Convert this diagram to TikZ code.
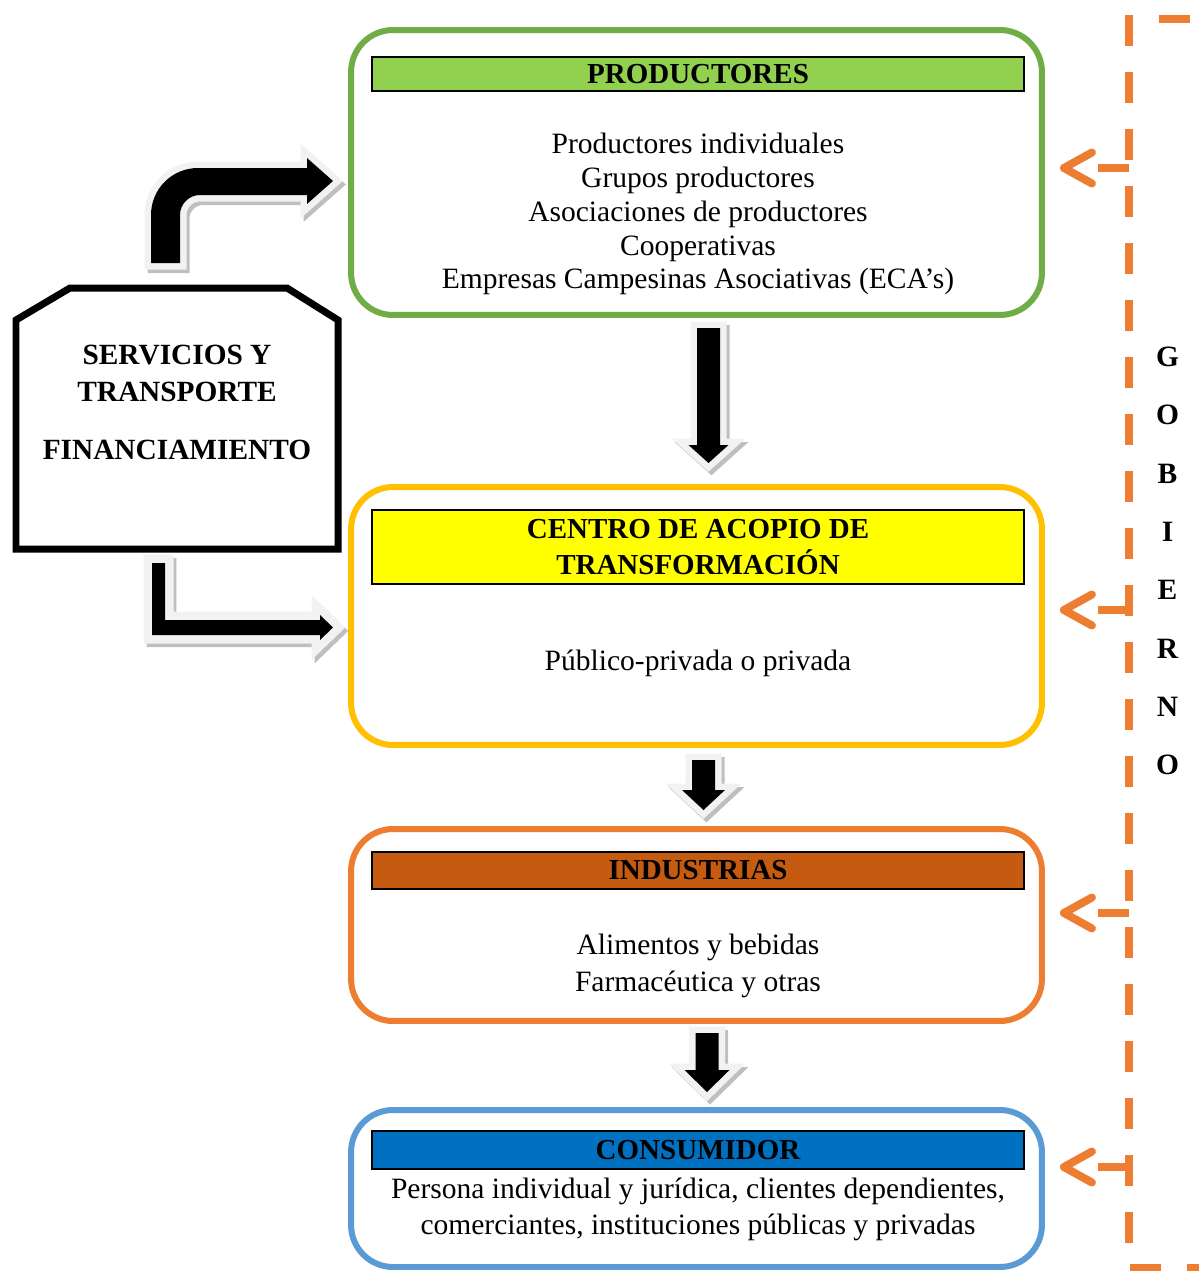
\documentclass[tikz,border=0pt]{standalone}
\usepackage{fontspec}
\setmainfont{Liberation Serif}
\usetikzlibrary{arrows.meta}
\definecolor{prodGreen}{HTML}{70AD47}
\definecolor{prodBar}{HTML}{92D050}
\definecolor{centroGold}{HTML}{FFC000}
\definecolor{centroBar}{HTML}{FFFF00}
\definecolor{indOrange}{HTML}{ED7D31}
\definecolor{indBar}{HTML}{C55A11}
\definecolor{consBlue}{HTML}{5B9BD5}
\definecolor{consBar}{HTML}{0070C0}
\definecolor{govOrange}{HTML}{ED7D31}
\definecolor{rimGray}{HTML}{F2F2F2}
\definecolor{shadowGray}{HTML}{BFBFBF}
\tikzstyle{diagram} = [x = 0.02cm, y = -0.02cm]
\tikzstyle{stageBox} = [rounded corners = 0.84cm, line width = 0.12cm, fill = white, inner sep = 0pt, minimum width = 13.82cm]
\tikzstyle{titleBar} = [draw = black, line width = 0.04cm, inner sep = 0pt, minimum width = 13.06cm, align = center, font = \bfseries\fontsize{16.5}{20.4}\selectfont]
\tikzstyle{bodyText} = [align = center, inner sep = 0pt, font = \fontsize{16.8}{19.3}\selectfont]
\tikzstyle{govLine} = [color = govOrange, line width = 0.15cm, dash pattern = on 0.62cm off 0.52cm]
\tikzstyle{govArrow} = [color = govOrange, line width = 0.16cm, dash pattern = on 0.62cm off 3cm, shorten > = 0.3cm, -{Straight Barb[length = 0.56cm, width = 0.62cm, line cap = round, line join = round]}]
\tikzstyle{govLetter} = [inner sep = 0pt, font = \bfseries\fontsize{16.8}{20}\selectfont]
\tikzstyle{arrowShadow} = [fill = shadowGray, draw = shadowGray, line join = miter]
\tikzstyle{arrowRim} = [draw = rimGray, line join = miter]
\tikzstyle{arrowCore} = [fill = black]
\tikzstyle{servBox} = [line width = 0.14cm, line join = miter]
\tikzstyle{servText} = [align = center, inner sep = 0pt, font = \bfseries\fontsize{16.7}{21}\selectfont]
% fat block arrow: shadow, light rim, black core
\newcommand{\fatShape}[2][0.26cm]{
  \path [arrowShadow, line width = #1, xshift = 0.06cm, yshift = -0.07cm] #2;
  \path [arrowRim, line width = #1] #2;
  \path [arrowCore] #2;
}
% x, top, head start, tip, shaft half width, head half width
\newcommand{\fatDown}[6]{\fatShape{(#1 - #5, #2) -- (#1 + #5, #2) -- (#1 + #5, #3) -- (#1 + #6, #3) -- (#1, #4) -- (#1 - #6, #3) -- (#1 - #5, #3) -- cycle}}

\begin{document}
\begin{tikzpicture}[diagram]
  \useasboundingbox (0,0) rectangle (1199,1271);

  % stages
  \node [stageBox, draw = prodGreen, minimum height = 5.7cm] (prod) at (696.5,172.5) {};
  \node [titleBar, fill = prodBar, minimum height = 0.68cm] (prodTitle) at (698,74) {PRODUCTORES};
  \node [bodyText] (prodText) at (698,214) {Productores individuales\\Grupos productores\\Asociaciones de productores\\Cooperativas\\Empresas Campesinas Asociativas (ECA’s)};

  \node [stageBox, draw = centroGold, minimum height = 5.16cm] (centro) at (696.5,616) {};
  \node [titleBar, fill = centroBar, minimum height = 1.48cm] (centroTitle) at (698,547) {CENTRO DE ACOPIO DE\\TRANSFORMACIÓN};
  \node [bodyText] (centroText) at (698,663) {Público-privada o privada};

  \node [stageBox, draw = indOrange, minimum height = 3.84cm] (ind) at (696.5,925) {};
  \node [titleBar, fill = indBar, minimum height = 0.74cm] (indTitle) at (698,870.5) {INDUSTRIAS};
  \node [bodyText, font = \fontsize{16.8}{21}\selectfont] (indText) at (698,966) {Alimentos y bebidas\\Farmacéutica y otras};

  \node [stageBox, draw = consBlue, minimum height = 3.14cm] (cons) at (696.5,1188.5) {};
  \node [titleBar, fill = consBar, minimum height = 0.76cm] (consTitle) at (698,1150) {CONSUMIDOR};
  \node [bodyText, font = \fontsize{16.8}{20.4}\selectfont] (consText) at (698,1209) {Persona individual y jurídica, clientes dependientes,\\comerciantes, instituciones públicas y privadas};

  % servicios
  \draw [servBox] (16,320) -- (70,288) -- (287,288) -- (338,320) -- (338,549) -- (16,549) -- cycle;
  \node [servText] (serv) at (177,402) {SERVICIOS Y\\TRANSPORTE\\[12pt]FINANCIAMIENTO};

  % fat arrows
  \fatShape{(151,263) -- (151,215) .. controls (151,189) and (172,168) .. (198,168) -- (307,168) -- (307,158) -- (333,181) -- (307,204) -- (307,195) -- (200,195) .. controls (189,195) and (180,204) .. (180,215) -- (180,263) -- cycle}
  \fatShape[0.34cm]{(152,563) -- (165,563) -- (165,620) -- (320,620) -- (320,615) -- (333,627.5) -- (320,640) -- (320,635) -- (152,635) -- cycle}
  \fatDown{708.5}{328}{445}{463}{11.5}{20}
  \fatDown{703.5}{760}{790}{810}{11.5}{21.5}
  \fatDown{707}{1033}{1070}{1092}{11.5}{22.5}

  % gobierno
  \coordinate (govTop) at (1129,19);
  \coordinate (govBottom) at (1129,1268);
  \draw [govLine] (1190,19) -- (govTop) -- (govBottom) -- (1199,1268);
  \foreach \letter [count = \i] in {G,O,B,I,E,R,N,O}
    \node [govLetter] (letter\i) at (1167.5,{357 + 58.3 * (\i - 1)}) {\letter};
  \coordinate (g1) at (1129,168);
  \coordinate (g2) at (1129,610);
  \coordinate (g3) at (1129,913);
  \coordinate (g4) at (1129,1167);
  \draw [govArrow] (g1) -- (g1 -| prod.east);
  \draw [govArrow] (g2) -- (g2 -| centro.east);
  \draw [govArrow] (g3) -- (g3 -| ind.east);
  \draw [govArrow] (g4) -- (g4 -| cons.east);
\end{tikzpicture}
\end{document}
